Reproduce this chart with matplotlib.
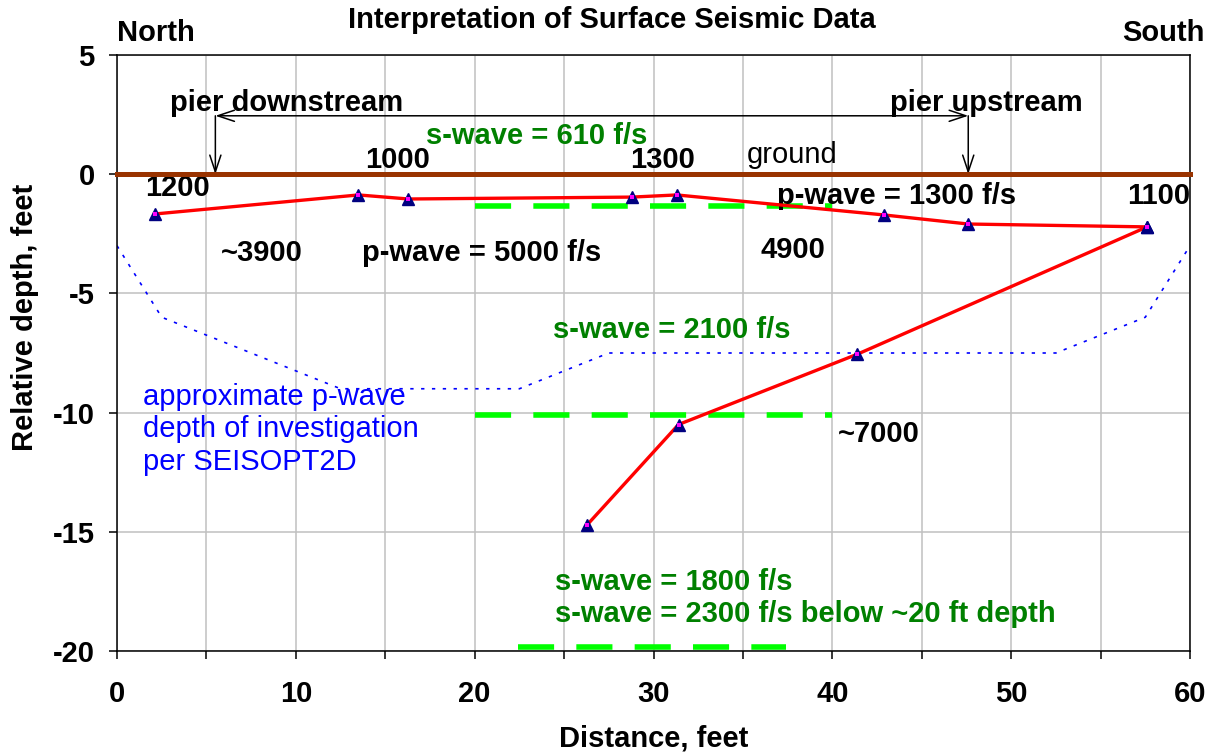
import matplotlib
matplotlib.use("Agg")
import matplotlib.pyplot as plt
from matplotlib.ticker import MultipleLocator

plt.rcParams['font.family'] = ['Liberation Sans', 'DejaVu Sans']
plt.rcParams['axes.unicode_minus'] = False

# interpreted refractor (red line with markers)
upper_x = [2.1, 13.5, 16.3, 28.8, 31.3, 42.9, 47.6, 57.6]
upper_y = [-1.67, -0.87, -1.04, -0.96, -0.87, -1.71, -2.09, -2.21]
lower_x = [57.6, 41.4, 31.4, 26.3]
lower_y = [-2.21, -7.55, -10.5, -14.7]

# s-wave layer boundaries (green dashed)
swave_top_x = [20, 40]
swave_top_y = [-1.35, -1.35]
swave_mid_x = [20, 40]
swave_mid_y = [-10.1, -10.1]
swave_bot_x = [22.4, 37.4]
swave_bot_y = [-19.82, -19.82]

# approximate p-wave depth of investigation (blue dotted)
doi_x = [0, 2.5, 12.5, 22.5, 27.5, 52.5, 57.5, 60]
doi_y = [-3, -6, -9, -9, -7.5, -7.5, -6, -3]

ground_x = [0, 60]
ground_y = [0, 0]

pier_down_x = 5.5
pier_up_x = 47.6
pier_y = 2.45

labels = [
    # text, x, y, colour, bold
    ("s-wave = 610 f/s", 17.3, 1.6, "#008000", True),
    ("1000", 13.9, 0.6, "black", True),
    ("1300", 28.7, 0.6, "black", True),
    ("ground", 35.2, 0.8, "black", False),
    ("1200", 1.55, -0.58, "black", True),
    ("p-wave = 1300 f/s", 36.9, -0.91, "black", True),
    ("1100", 56.5, -0.91, "black", True),
    ("~3900", 5.8, -3.3, "black", True),
    ("p-wave = 5000 f/s", 13.7, -3.3, "black", True),
    ("4900", 36.0, -3.2, "black", True),
    ("s-wave = 2100 f/s", 24.4, -6.53, "#008000", True),
    ("~7000", 40.3, -10.9, "black", True),
    ("s-wave = 1800 f/s", 24.5, -17.1, "#008000", True),
    ("s-wave = 2300 f/s below ~20 ft depth", 24.5, -18.45, "#008000", True),
]

FS = 21

fig = plt.figure(figsize=(12.13, 7.53), dpi=100)
ax = fig.add_axes([117 / 1213, 1 - 651 / 753, 1073 / 1213, 596 / 753])

ax.set_xlim(0, 60)
ax.set_ylim(-20, 5)
ax.xaxis.set_major_locator(MultipleLocator(10))
ax.xaxis.set_minor_locator(MultipleLocator(5))
ax.yaxis.set_major_locator(MultipleLocator(5))
ax.grid(True, which='both', color='#c0c0c0', lw=1.1)
ax.set_axisbelow(True)
ax.tick_params(which='both', direction='out', length=6, width=1.1, labelsize=FS)
ax.tick_params(axis='x', pad=15)
ax.tick_params(axis='y', pad=10)
for lab in ax.get_xticklabels() + ax.get_yticklabels():
    lab.set_fontweight('bold')
for sp in ax.spines.values():
    sp.set_linewidth(1.1)

ax.plot(doi_x, doi_y, color='blue', lw=1.2, dashes=(2, 4.5), zorder=2)

for sx, sy in [(swave_top_x, swave_top_y), (swave_mid_x, swave_mid_y), (swave_bot_x, swave_bot_y)]:
    ax.plot(sx, sy, color='#00ff00', lw=4, dashes=(6.5, 4), zorder=3)

ax.plot(ground_x, ground_y, color='#993300', lw=3.6, solid_capstyle='projecting',
        clip_on=False, zorder=4)

for lx, ly in [(upper_x, upper_y), (lower_x, lower_y)]:
    ax.plot(lx, ly, color='red', lw=2.4, zorder=5)
    ax.plot(lx, ly, ls='none', marker='^', ms=8, color='#000080', zorder=6)
    ax.plot(lx, ly, ls='none', marker='s', ms=3, color='#ff00ff', mew=0, zorder=7)

arrow = dict(arrowstyle='->,head_length=0.6,head_width=0.2', color='black', lw=1.1,
             shrinkA=0, shrinkB=0, mutation_scale=20)
ax.annotate('', xy=(pier_down_x, 0), xytext=(pier_down_x, pier_y), arrowprops=arrow)
ax.annotate('', xy=(pier_up_x, 0), xytext=(pier_up_x, pier_y), arrowprops=arrow)
ax.annotate('', xy=(pier_down_x, pier_y), xytext=(pier_up_x, pier_y),
            arrowprops=dict(arrow, arrowstyle='<->,head_length=0.6,head_width=0.2'))

ax.text(2.95, 3.0, "pier downstream", fontsize=FS, fontweight='bold', va='center')
ax.text(43.2, 3.0, "pier upstream", fontsize=FS, fontweight='bold', va='center')

for txt, tx, ty, col, bold in labels:
    ax.text(tx, ty, txt, color=col, fontsize=FS,
            fontweight='bold' if bold else 'normal', va='center', ha='left')

ax.text(1.45, -10.7, "approximate p-wave\ndepth of investigation\nper SEISOPT2D",
        color='blue', fontsize=FS, va='center', ha='left', linespacing=1.2)

ax.text(0, 1.037, "North", transform=ax.transAxes, fontsize=FS, fontweight='bold',
        ha='left', va='center')
ax.text(1.014, 1.037, "South", transform=ax.transAxes, fontsize=FS, fontweight='bold',
        ha='right', va='center')
fig.text(612 / 1213, 1 - 20 / 753, "Interpretation of Surface Seismic Data",
         fontsize=FS, fontweight='bold', ha='center', va='center')

ax.set_xlabel("Distance, feet", fontsize=FS, fontweight='bold', labelpad=12)
ax.set_ylabel("Relative depth, feet", fontsize=FS, fontweight='bold')
ax.yaxis.set_label_coords(-0.073, 0.559)

fig.savefig("out.png", dpi=100)
